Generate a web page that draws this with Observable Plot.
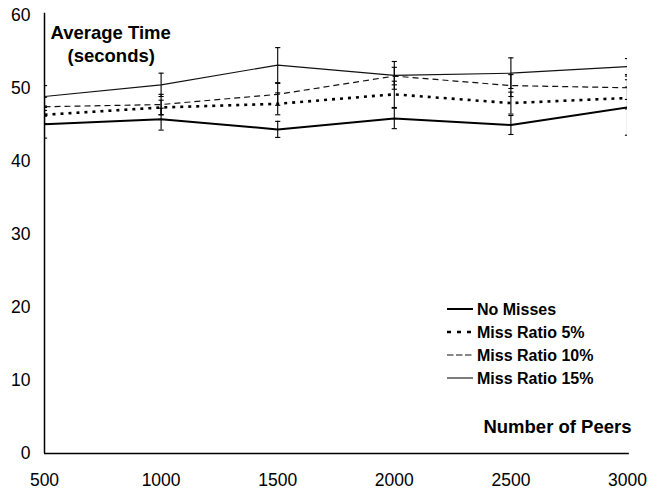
<!DOCTYPE html>
<html>
<head>
<meta charset="utf-8">
<script src="https://cdn.jsdelivr.net/npm/d3@7"></script>
<script src="https://cdn.jsdelivr.net/npm/@observablehq/plot@0.6"></script>
<style>
  html, body { margin: 0; padding: 0; background: #fff; }
  #chart svg { display: block; }
</style>
</head>
<body>
<div id="chart"></div>
<script>
// Number of peers (x) and average lookup time in seconds (y) with error half-widths
const peers = [500, 1000, 1500, 2000, 2500, 3000];

const noMisses    = [45.1, 45.8, 44.4, 45.9, 45.0, 47.4];
const noMissesErr = [1.9, 1.5, 1.1, 1.4, 1.3, 3.8];

const miss5    = [46.4, 47.4, 47.9, 49.2, 48.0, 48.7];
const miss5Err = [1.2, 1.0, 1.5, 1.8, 1.5, 1.5];

const miss10    = [47.5, 47.8, 49.2, 51.7, 50.4, 50.1];
const miss10Err = [1.3, 1.4, 1.5, 1.2, 1.5, 1.6];

const miss15    = [48.9, 50.5, 53.2, 51.8, 52.1, 53.0];
const miss15Err = [1.5, 1.6, 2.4, 1.9, 2.1, 1.1];

const seriesNames = ["No Misses", "Miss Ratio 5%", "Miss Ratio 10%", "Miss Ratio 15%"];
const xTicks = [500, 1000, 1500, 2000, 2500, 3000];
const yTicks = [0, 10, 20, 30, 40, 50, 60];

const FONT = "'Liberation Sans', Arial, Helvetica, sans-serif";

// Stroke style of each series
const styles = {
  "No Misses":      {width: 2,   dash: null,  legendDash: null,  color: "#000"},
  "Miss Ratio 5%":  {width: 2.6, dash: "3,5", legendDash: "4,6", color: "#000"},
  "Miss Ratio 10%": {width: 1.2, dash: "6,4", legendDash: "6.5,2.5", color: "#111"},
  "Miss Ratio 15%": {width: 1.1, dash: null,  legendDash: null,  color: "#111"}
};

const values = [noMisses, miss5, miss10, miss15];
const errors = [noMissesErr, miss5Err, miss10Err, miss15Err];

const rows = seriesNames.flatMap((s, k) =>
  peers.map((p, i) => ({series: s, peers: p, time: values[k][i], err: errors[k][i]}))
);

// Short horizontal cap used at both ends of every error bar
const cap = {
  draw(context, size) {
    const w = Math.sqrt(size / Math.PI);
    context.moveTo(-w, 0);
    context.lineTo(w, 0);
  }
};

const lineMarks = seriesNames.map(s => Plot.line(rows.filter(d => d.series === s), {
  x: "peers", y: "time",
  stroke: styles[s].color,
  strokeWidth: styles[s].width,
  strokeDasharray: styles[s].dash,
  strokeLinecap: "butt",
  clip: true
}));

const chart = Plot.plot({
  width: 650,
  height: 493,
  marginLeft: 44,
  marginRight: 23,
  marginTop: 15,
  marginBottom: 40,
  style: {fontFamily: FONT, fontSize: "17.5px", color: "#000", background: "#fff"},
  x: {domain: [500, 3000]},
  y: {domain: [0, 60]},
  marks: [
    Plot.axisY({ticks: yTicks, tickSize: 0, tickPadding: 14, label: null, tickFormat: d => String(d)}),
    Plot.axisX({ticks: xTicks, tickSize: 0, tickPadding: 20, label: null, tickFormat: d => String(d)}),
    // error bars
    Plot.ruleX(rows, {x: "peers", y1: d => d.time - d.err, y2: d => d.time + d.err, stroke: "#000", strokeWidth: 1.1, clip: true}),
    Plot.dot(rows, {x: "peers", y: d => d.time - d.err, symbol: cap, r: 2.6, stroke: "#000", strokeWidth: 1.1, fill: "none", clip: true}),
    Plot.dot(rows, {x: "peers", y: d => d.time + d.err, symbol: cap, r: 2.6, stroke: "#000", strokeWidth: 1.1, fill: "none", clip: true}),
    ...lineMarks,
    // axis lines
    Plot.ruleX([500], {y1: 0, y2: 60.3, stroke: "#000", strokeWidth: 1.5}),
    Plot.ruleY([0], {x1: 500, x2: 3008, stroke: "#000", strokeWidth: 1.5}),
    // axis titles
    Plot.text(["Average Time"], {frameAnchor: "top-left", dx: 6, dy: 10, textAnchor: "start", fontWeight: "bold", fontSize: 18.5, fill: "#000"}),
    Plot.text(["(seconds)"], {frameAnchor: "top-left", dx: 23, dy: 33, textAnchor: "start", fontWeight: "bold", fontSize: 18.5, fill: "#000"}),
    Plot.text(["Number of Peers"], {frameAnchor: "bottom-right", dx: 4, dy: -21, textAnchor: "end", fontWeight: "bold", fontSize: 18.5, fill: "#000"})
  ]
});

// Legend in the lower right of the plotting area
const svg = d3.select(chart);
const legend = svg.append("g")
  .attr("font-family", FONT)
  .attr("font-size", 16)
  .attr("font-weight", "bold")
  .attr("text-anchor", "start");
const legendY0 = 309, legendStep = 23;
seriesNames.forEach((s, i) => {
  const y = legendY0 + i * legendStep;
  legend.append("line")
    .attr("x1", 447).attr("x2", 473).attr("y1", y).attr("y2", y)
    .attr("stroke", styles[s].color)
    .attr("stroke-width", styles[s].width)
    .attr("stroke-dasharray", styles[s].legendDash);
  legend.append("text")
    .attr("x", 477).attr("y", y).attr("dy", "0.35em")
    .attr("text-anchor", "start")
    .attr("fill", "#000")
    .text(s);
});

document.getElementById("chart").append(chart);
</script>
</body>
</html>
